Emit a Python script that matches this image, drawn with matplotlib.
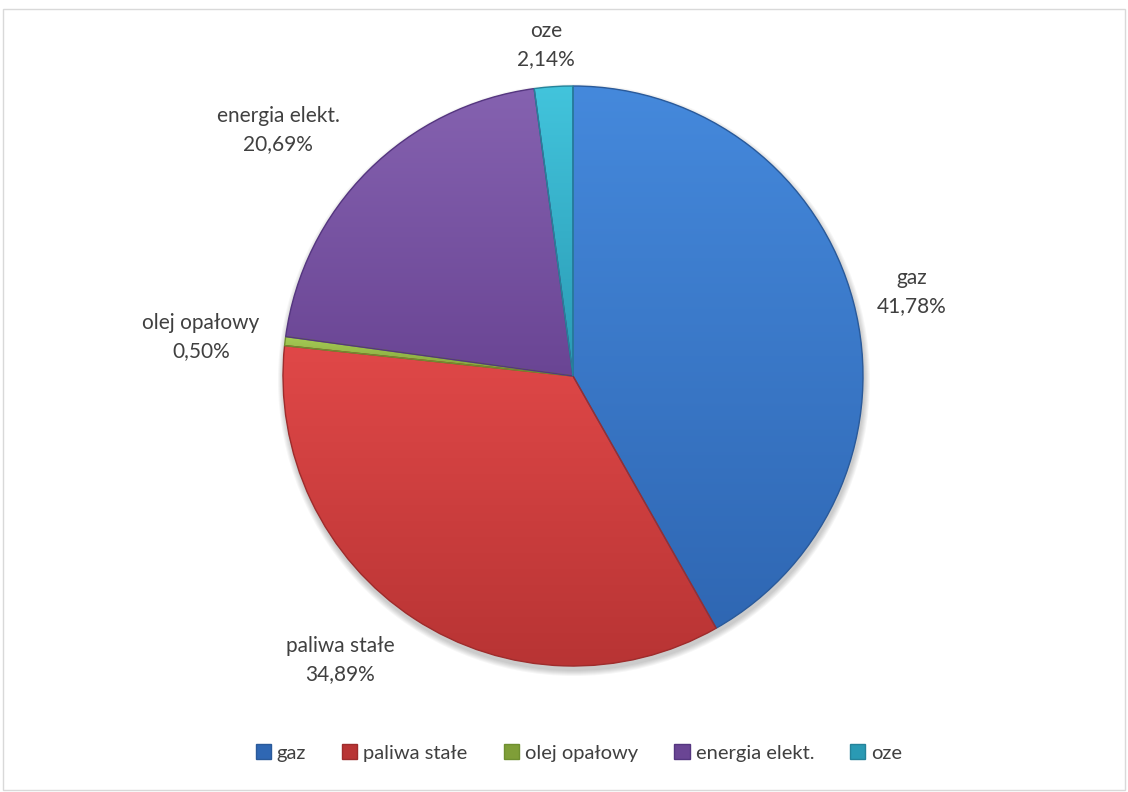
import numpy as np
import matplotlib.pyplot as plt
from matplotlib.colors import to_rgb
from matplotlib.patches import Rectangle, Circle

# data
categories = ['gaz', 'paliwa stałe', 'olej opałowy', 'energia elekt.', 'oze']
shares = [41.78, 34.89, 0.50, 20.69, 2.14]
labels = ['41,78%', '34,89%', '0,50%', '20,69%', '2,14%']

# slice colours: light (top) and dark (bottom) end of the gradient
top_colors = ['#4589dc', '#e04848', '#a6cc55', '#8562b0', '#42c4dc']
bottom_colors = ['#2f67b3', '#b83434', '#7f9e38', '#6a4594', '#2a9ab4']
edge_colors = ['#2a5a9a', '#9e2c2c', '#6f8f30', '#553680', '#25839a']

# label block centres in figure pixels (x from left, y from top)
label_pos = [(912, 292), (340, 660), (201, 337), (278, 130), (546, 45)]

W, H = 1128, 792
plt.rcParams['font.family'] = ['Lato', 'DejaVu Sans']
fig = plt.figure(figsize=(W / 100, H / 100), dpi=100)
ax = fig.add_axes([0, 0, 1, 1])

# chart border
ax.add_patch(Rectangle((3, 2), W - 6, H - 11, fill=False,
                       edgecolor='#d9d9d9', linewidth=1))

cx, cy, r = 573, H - 376, 290

# soft shadow under the pie
for k in range(6):
    ax.add_patch(Circle((cx + 1, cy - 4), r + 1 + k, facecolor='#000000',
                        edgecolor='none', alpha=0.035, zorder=0))

wedges, _ = ax.pie(shares, colors=top_colors, startangle=90, counterclock=False,
                   center=(cx, cy), radius=r, frame=True,
                   wedgeprops=dict(linewidth=0))

# vertical gradient inside every slice
for w, c1, c2 in zip(wedges, top_colors, bottom_colors):
    bb = w.get_path().get_extents()
    t = np.linspace(0, 1, 256)[:, None]
    grad = (1 - t) * np.array(to_rgb(c1)) + t * np.array(to_rgb(c2))
    im = ax.imshow(grad[:, None, :].repeat(2, axis=1),
                   extent=[bb.x0, bb.x1, bb.y0, bb.y1],
                   origin='upper', aspect='auto', zorder=2,
                   interpolation='bilinear')
    im.set_clip_path(w)

# slice outlines
outlines, _ = ax.pie(shares, startangle=90, counterclock=False,
                     center=(cx, cy), radius=r, frame=True,
                     wedgeprops=dict(fill=False, linewidth=1.0))
for w, ec in zip(outlines, edge_colors):
    w.set_edgecolor(ec)
    w.set_zorder(3)

ax.set_xlim(0, W)
ax.set_ylim(0, H)
ax.set_aspect('equal')
ax.axis('off')

# data labels
for name, lab, (px, py) in zip(categories, labels, label_pos):
    ax.text(px, H - py, name + '\n' + lab, ha='center', va='center',
            fontsize=15, color='#404040', linespacing=1.5)

# legend
handles = [Rectangle((0, 0), 1, 1, facecolor=c, edgecolor=e)
           for c, e in zip(bottom_colors, edge_colors)]
leg = fig.legend(handles, categories, loc='center',
                 bbox_to_anchor=((W / 2 + 15) / W, 1 - 753 / H),
                 ncol=5, frameon=False, fontsize=14.5, handlelength=0.75,
                 handleheight=0.75, handletextpad=0.3, columnspacing=1.8)
for t in leg.get_texts():
    t.set_color('#404040')

fig.savefig('out.png', dpi=100)
